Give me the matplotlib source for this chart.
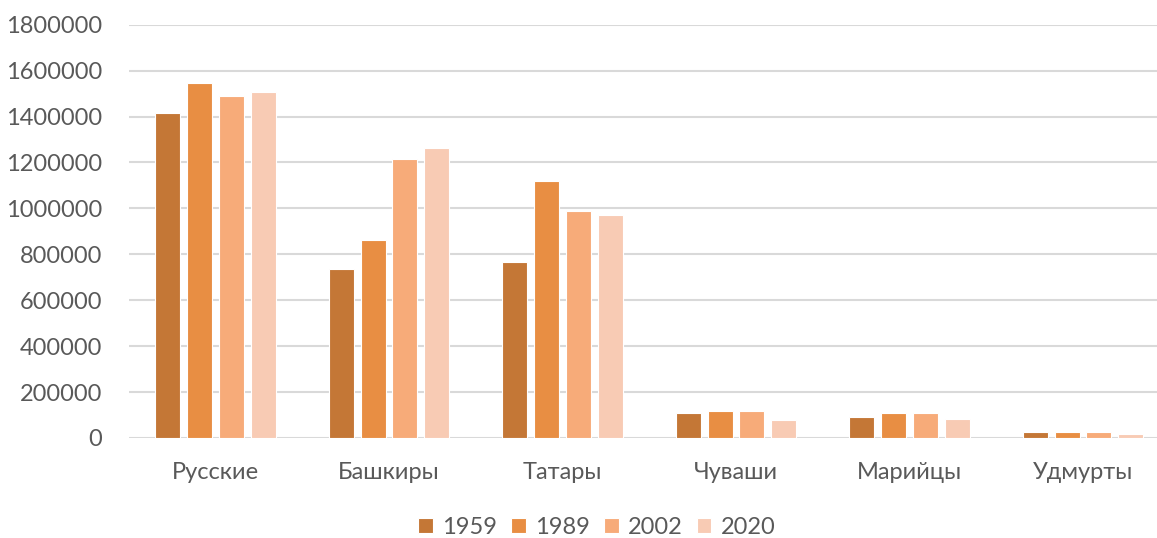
import matplotlib
matplotlib.use("Agg")
import matplotlib.pyplot as plt
import numpy as np

# данные
narody = ["Русские", "Башкиры", "Татары", "Чуваши", "Марийцы", "Удмурты"]
goda = ["1959", "1989", "2002", "2020"]
v1959 = [1415000, 736000, 768000, 110000, 93000, 27000]
v1989 = [1547000, 863000, 1119000, 119000, 107000, 24000]
v2002 = [1490000, 1217000, 990000, 119000, 107000, 24000]
v2020 = [1508000, 1265000, 973000, 80000, 84000, 19000]
tsveta = ["#C47736", "#E88E43", "#F7AB79", "#F8CBB4"]

plt.rcParams["font.family"] = ["Lato", "DejaVu Sans"]

fig = plt.figure(figsize=(11.57, 5.38), dpi=100)
ax = fig.add_axes([0.1113, 0.186, 0.8997, 0.768])

x = np.arange(len(narody))
shirina = 0.144
shag = 0.183
serii = [v1959, v1989, v2002, v2020]
for i, s in enumerate(serii):
    ax.bar(x + (i - 1.5) * shag, s, width=shirina, color=tsveta[i],
           edgecolor="white", linewidth=0.8, label=goda[i], zorder=3)

ax.set_xlim(-0.5, len(narody) - 0.5)
ax.set_ylim(0, 1800000)
ax.set_yticks(range(0, 1800001, 200000))
ax.set_yticklabels([str(v) for v in range(0, 1800001, 200000)])
ax.set_xticks(x)
ax.set_xticklabels(narody)
ax.tick_params(axis="both", length=0, labelsize=17, colors="#595959")
ax.tick_params(axis="y", pad=19)
ax.tick_params(axis="x", pad=17)
ax.grid(axis="y", color="#D9D9D9", linewidth=1.5, zorder=0)
for sp in ax.spines.values():
    sp.set_visible(False)

leg = fig.legend(loc="center", bbox_to_anchor=(0.5156, 0.02), ncol=4, frameon=False,
                 fontsize=17, handlelength=0.63, handleheight=0.63, handletextpad=0.38,
                 columnspacing=0.6, labelcolor="#595959")

fig.savefig("out.png", dpi=100)
